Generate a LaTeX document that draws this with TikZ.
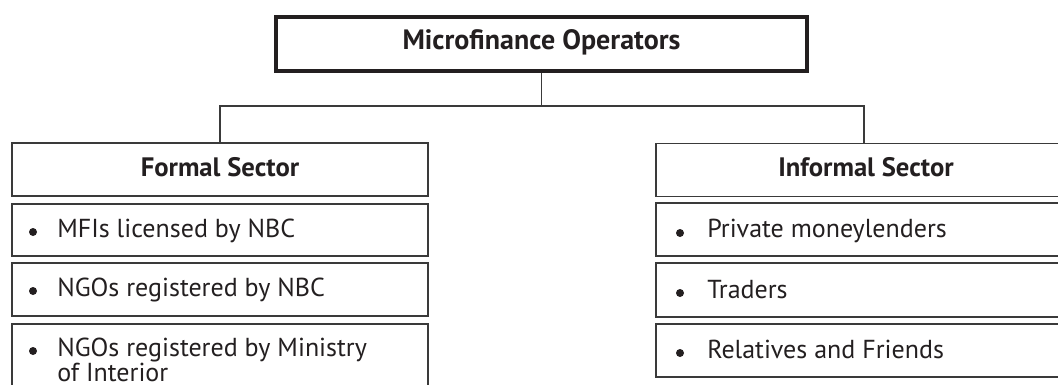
\documentclass[tikz,border=0pt]{standalone}
\usepackage{fontspec}
\setmainfont{PT Sans}
\definecolor{ink}{HTML}{231F20}
\definecolor{rule}{HTML}{3A3A3A}
\begin{document}
\begin{tikzpicture}[x=0.75pt,y=-0.75pt,
  topbox/.style={draw=ink,line width=2.7pt,inner sep=0pt},
  headbox/.style={draw=rule,line width=1.2pt,inner sep=0pt,minimum width=312pt},
  itembox/.style={draw=rule,line width=1.2pt,inner sep=0pt,minimum width=312pt},
  headtext/.style={anchor=base,inner sep=0pt,text=ink,font=\fontsize{20}{24}\selectfont\bfseries},
  itemtext/.style={anchor=base west,inner sep=0pt,text=ink,font=\fontsize{19.5}{23}\selectfont},
  bullet/.style={circle,fill=ink,inner sep=0pt,minimum size=6pt},
  conn/.style={draw=rule,line width=1.1pt}]
\clip (0,0) rectangle (1058,385);
% top
\node[topbox,minimum width=398pt,minimum height=40.5pt] (top) at (541.5,44) {};
\node[headtext,font=\fontsize{21}{24}\selectfont\bfseries] (topt) at (541.5,50) {Microfinance Operators};
% left column
\node[headbox,minimum height=39.75pt] (lh) at (220,169.5) {};
\node[headtext] (lht) at (220,176) {Formal Sector};
\node[itembox,minimum height=39pt] (l1) at (220,230) {};
\node[itembox,minimum height=39.75pt] (l2) at (220,289.5) {};
\node[itembox,minimum height=57pt] (l3) at (220,362) {};
\node[bullet] (lb1) at (33,232) {};
\node[itemtext] (lt1) at (57,237) {MFIs licensed by NBC};
\node[bullet] (lb2) at (33,291) {};
\node[itemtext] (lt2) at (57,296) {NGOs registered by NBC};
\node[bullet] (lb3) at (33,351) {};
\node[itemtext] (lt3) at (57,356) {NGOs registered by Ministry};
\node[itemtext] (lt4) at (57,381) {of Interior};
% right column
\node[headbox,minimum height=40pt] (rh) at (864,170) {};
\node[headtext] (rht) at (866,176) {Informal Sector};
\node[itembox,minimum height=39.75pt] (r1) at (864,229.5) {};
\node[itembox,minimum height=40.5pt] (r2) at (864,290) {};
\node[itembox,minimum height=39.75pt] (r3) at (864,350.5) {};
\node[bullet] (rb1) at (680,233) {};
\node[itemtext] (rt1) at (707,238) {Private moneylenders};
\node[bullet] (rb2) at (680,293) {};
\node[itemtext] (rt2) at (707,298) {Traders};
\node[bullet] (rb3) at (680,353) {};
\node[itemtext] (rt3) at (707,358) {Relatives and Friends};
% connectors
\coordinate (j) at (541.5,106);
\draw[conn] (top.south) -- (j);
\draw[conn] (j) -| (lh.north);
\draw[conn] (j) -| (rh.north);
\end{tikzpicture}
\end{document}
